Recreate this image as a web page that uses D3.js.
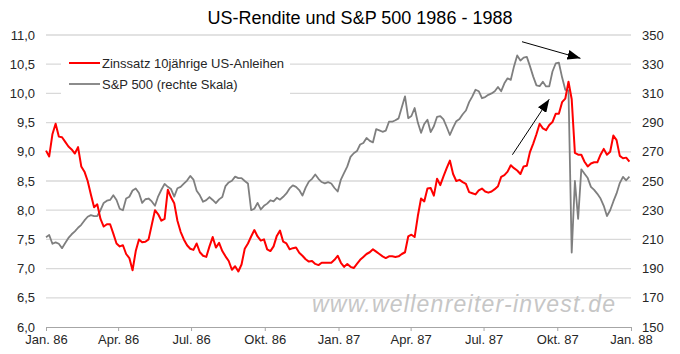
<!DOCTYPE html>
<html>
<head>
<meta charset="utf-8">
<script src="https://cdn.jsdelivr.net/npm/d3@7"></script>
<style>
body { margin: 0; background: #fff; }
svg { display: block; font-family: "Liberation Sans", Arial, sans-serif; }
</style>
</head>
<body>
<svg width="680" height="354"></svg>
<script>
// 10-year US treasury yield (%), one reading every 4 days from 1 Jan 1986
const yieldVals = [
	9.02, 8.92, 9.3, 9.48, 9.26, 9.25, 9.17, 9.09, 9.04, 8.97,
	9.08, 8.75, 8.66, 8.5, 8.27, 8.05, 8.1, 7.85, 7.72, 7.76,
	7.76, 7.6, 7.43, 7.38, 7.4, 7.25, 7.18, 6.97, 7.3, 7.5,
	7.45, 7.46, 7.5, 7.75, 8.0, 7.93, 7.82, 7.85, 8.35, 8.22,
	8.12, 7.82, 7.63, 7.5, 7.4, 7.34, 7.32, 7.43, 7.28, 7.22,
	7.2, 7.38, 7.54, 7.36, 7.44, 7.3, 7.21, 7.13, 6.98, 7.04,
	6.95, 7.07, 7.34, 7.43, 7.55, 7.66, 7.55, 7.48, 7.5, 7.33,
	7.3, 7.38, 7.56, 7.65, 7.46, 7.43, 7.33, 7.35, 7.36, 7.27,
	7.22, 7.16, 7.12, 7.13, 7.08, 7.06, 7.1, 7.1, 7.1, 7.1,
	7.15, 7.22, 7.1, 7.03, 7.08, 7.03, 7.01, 7.08, 7.15, 7.2,
	7.25, 7.28, 7.33, 7.29, 7.25, 7.21, 7.18, 7.21, 7.21, 7.2,
	7.21, 7.25, 7.28, 7.55, 7.58, 7.54, 7.9, 8.2, 8.15, 8.37,
	8.38, 8.25, 8.54, 8.43, 8.58, 8.72, 8.85, 8.62, 8.5, 8.52,
	8.48, 8.45, 8.31, 8.29, 8.27, 8.34, 8.37, 8.32, 8.3, 8.32,
	8.36, 8.41, 8.57, 8.6, 8.66, 8.77, 8.72, 8.68, 8.62, 8.75,
	8.76, 9.0, 9.14, 9.3, 9.48, 9.4, 9.37, 9.46, 9.51, 9.65,
	9.65, 9.85, 9.91, 10.2, 9.9, 8.98, 8.95, 8.95, 8.83, 8.75,
	8.8, 8.82, 8.82, 8.95, 9.05, 8.95, 9.0, 9.28, 9.2, 8.93,
	8.89, 8.9, 8.83
];

// S&P 500, same dates
const spxVals = [
	211.5, 213, 207, 208, 207, 204, 207.5, 211, 213.5, 215.5,
	218, 220, 223, 225.5, 226.6, 226, 226, 230, 235, 236.5,
	237, 240.3, 237, 231, 230, 238, 239.2, 243.5, 244.9, 241.8,
	235, 237.5, 238, 236, 233, 239.5, 244, 248, 246, 244.5,
	239.3, 245, 246, 248.2, 250.3, 253.5, 251, 243.4, 240.2, 235.8,
	236.9, 239, 237, 234.8, 237.4, 239, 246.5, 249, 250.2, 253,
	252, 252, 250, 248.3, 230, 231, 235, 230.5, 233, 234.5,
	236.8, 236, 238.5, 237.2, 239.2, 241.5, 244.9, 247, 246, 243.8,
	240, 245.5, 249.6, 251.5, 254.5, 251.5, 249.3, 248.4, 249.2, 248.3,
	245.2, 242.8, 251, 255.5, 260, 266.5, 269, 270.5, 275, 276,
	279.5, 277.5, 276.5, 285.5, 284.7, 283.7, 284.5, 290.6, 290.6, 291.6,
	292.9, 300.5, 308, 293, 294.5, 300, 290, 283, 289, 292,
	283.5, 287.5, 294, 294.5, 292.2, 287, 281.5, 286.5, 291, 292.5,
	295.7, 298.3, 304, 308, 312.5, 311.5, 306.7, 307.5, 309, 310,
	311.5, 314.4, 311.5, 316.9, 320.3, 319.3, 328.5, 336, 332.5, 334.5,
	335, 328.5, 321.5, 315.5, 315, 318, 314.8, 314.8, 325, 330.5,
	331, 321, 312.5, 312, 201, 250, 224, 258, 255, 252,
	246, 243.9, 241.2, 238, 233, 226, 230, 236, 241.5, 248.6,
	252.8, 250.5, 253
];

const startDate = new Date(1986, 0, 1);
const stepDays = 4;

const xTickDates = ['1986-01-01', '1986-04-01', '1986-07-01', '1986-10-01', '1987-01-01',
	'1987-04-01', '1987-07-01', '1987-10-01', '1988-01-01'];
const xTickLabels = ['Jan. 86', 'Apr. 86', 'Jul. 86', 'Okt. 86', 'Jan. 87',
	'Apr. 87', 'Jul. 87', 'Okt. 87', 'Jan. 88'];
const yieldTicks = [6, 6.5, 7, 7.5, 8, 8.5, 9, 9.5, 10, 10.5, 11];
const spxTicks = [150, 170, 190, 210, 230, 250, 270, 290, 310, 330, 350];

const seriesNames = ['Zinssatz 10jährige US-Anleihen', 'S&P 500 (rechte Skala)'];
const seriesColors = ['#ff0000', '#7f7f7f'];

// arrows: [date, value] pairs, first on the right scale, second on the left scale
const arrowTop = [['1987-08-18', 345.4], ['1987-10-30', 334]];
const arrowMid = [['1987-08-06', 8.95], ['1987-09-21', 9.9]];

const svg = d3.select('svg');
const width = +svg.attr('width');
const height = +svg.attr('height');

const margin = {top: 35, right: 49, bottom: 27, left: 46};
const innerWidth = width - margin.left - margin.right;
const innerHeight = height - margin.top - margin.bottom;

const parse = d3.timeParse('%Y-%m-%d');
const dates = yieldVals.map((d, i) => d3.timeDay.offset(startDate, i * stepDays));

const xScale = d3.scaleTime()
	.domain([new Date(1986, 0, 1), new Date(1988, 0, 1)])
	.range([0, innerWidth]);

const yLeft = d3.scaleLinear()
	.domain([6, 11])
	.range([innerHeight, 0]);

const yRight = d3.scaleLinear()
	.domain([150, 350])
	.range([innerHeight, 0]);

const de = d3.formatLocale({decimal: ',', thousands: '.', grouping: [3], currency: ['', ' €']});

const g = svg.append('g')
	.attr('transform', `translate(${margin.left}, ${margin.top})`);

// title
svg.append('text')
	.attr('x', 360)
	.attr('y', 24)
	.attr('text-anchor', 'middle')
	.attr('font-size', 18)
	.attr('fill', '#000')
	.text('US-Rendite und S&P 500 1986 - 1988');

// gridlines
g.append('g')
	.selectAll('line').data(yieldTicks.slice(1))
	.enter().append('line')
		.attr('x1', 0)
		.attr('x2', innerWidth)
		.attr('y1', d => yLeft(d))
		.attr('y2', d => yLeft(d))
		.attr('stroke', '#d9d9d9')
		.attr('stroke-width', 1.3);

// axes
const leftAxisG = g.append('g')
	.call(d3.axisLeft(yLeft).tickValues(yieldTicks).tickFormat(de.format('.1f')).tickSize(0).tickPadding(11));
leftAxisG.select('.domain').remove();

const rightAxisG = g.append('g')
	.attr('transform', `translate(${innerWidth}, 0)`)
	.call(d3.axisRight(yRight).tickValues(spxTicks).tickSize(0).tickPadding(11));
rightAxisG.select('.domain').remove();

const xAxisG = g.append('g')
	.attr('transform', `translate(0, ${innerHeight})`)
	.call(d3.axisBottom(xScale)
		.tickValues(xTickDates.map(parse))
		.tickFormat((d, i) => xTickLabels[i])
		.tickSize(4)
		.tickSizeOuter(0)
		.tickPadding(4));
xAxisG.select('.domain').attr('stroke', '#a6a6a6');
xAxisG.selectAll('.tick line').attr('stroke', '#a6a6a6');

svg.selectAll('.tick text')
	.attr('font-size', 13)
	.attr('font-family', '"Liberation Sans", Arial, sans-serif')
	.attr('fill', '#262626');

// watermark
svg.append('text')
	.attr('x', 312)
	.attr('y', 312)
	.attr('font-size', 23)
	.attr('font-style', 'italic')
	.attr('fill', '#c6c6c6')
	.attr('textLength', 303)
	.attr('lengthAdjust', 'spacing')
	.text('www.wellenreiter-invest.de');

// lines
const spxLine = d3.line()
	.x((d, i) => xScale(dates[i]))
	.y(d => yRight(d));

const yieldLine = d3.line()
	.x((d, i) => xScale(dates[i]))
	.y(d => yLeft(d));

g.append('path')
	.datum(spxVals)
	.attr('fill', 'none')
	.attr('stroke', seriesColors[1])
	.attr('stroke-width', 1.8)
	.attr('stroke-linejoin', 'round')
	.attr('d', spxLine);

g.append('path')
	.datum(yieldVals)
	.attr('fill', 'none')
	.attr('stroke', seriesColors[0])
	.attr('stroke-width', 2)
	.attr('stroke-linejoin', 'round')
	.attr('d', yieldLine);

// legend
const legend = svg.append('g');
legend.append('rect')
	.attr('x', 61)
	.attr('y', 50)
	.attr('width', 229)
	.attr('height', 50)
	.attr('fill', '#fff');

const legendItems = legend.selectAll('g.item').data(seriesNames)
	.enter().append('g')
		.attr('class', 'item')
		.attr('transform', (d, i) => `translate(69, ${63 + i * 21})`);

legendItems.append('line')
	.attr('x1', 0)
	.attr('x2', 31)
	.attr('stroke', (d, i) => seriesColors[i])
	.attr('stroke-width', (d, i) => i === 0 ? 2 : 1.8);

legendItems.append('text')
	.attr('x', 33)
	.attr('dy', '0.35em')
	.attr('font-size', 13)
	.attr('fill', '#262626')
	.text(d => d);

// arrows
const defs = svg.append('defs');
defs.append('marker')
	.attr('id', 'head')
	.attr('markerUnits', 'userSpaceOnUse')
	.attr('markerWidth', 13)
	.attr('markerHeight', 10)
	.attr('refX', 13)
	.attr('refY', 5)
	.attr('orient', 'auto')
	.append('path')
		.attr('d', 'M0,0L13,5L0,10Z')
		.attr('fill', '#000');

g.append('line')
	.attr('x1', xScale(parse(arrowTop[0][0])))
	.attr('y1', yRight(arrowTop[0][1]))
	.attr('x2', xScale(parse(arrowTop[1][0])))
	.attr('y2', yRight(arrowTop[1][1]))
	.attr('stroke', '#000')
	.attr('stroke-width', 1)
	.attr('marker-end', 'url(#head)');

g.append('line')
	.attr('x1', xScale(parse(arrowMid[0][0])))
	.attr('y1', yLeft(arrowMid[0][1]))
	.attr('x2', xScale(parse(arrowMid[1][0])))
	.attr('y2', yLeft(arrowMid[1][1]))
	.attr('stroke', '#000')
	.attr('stroke-width', 1)
	.attr('marker-end', 'url(#head)');
</script>
</body>
</html>
